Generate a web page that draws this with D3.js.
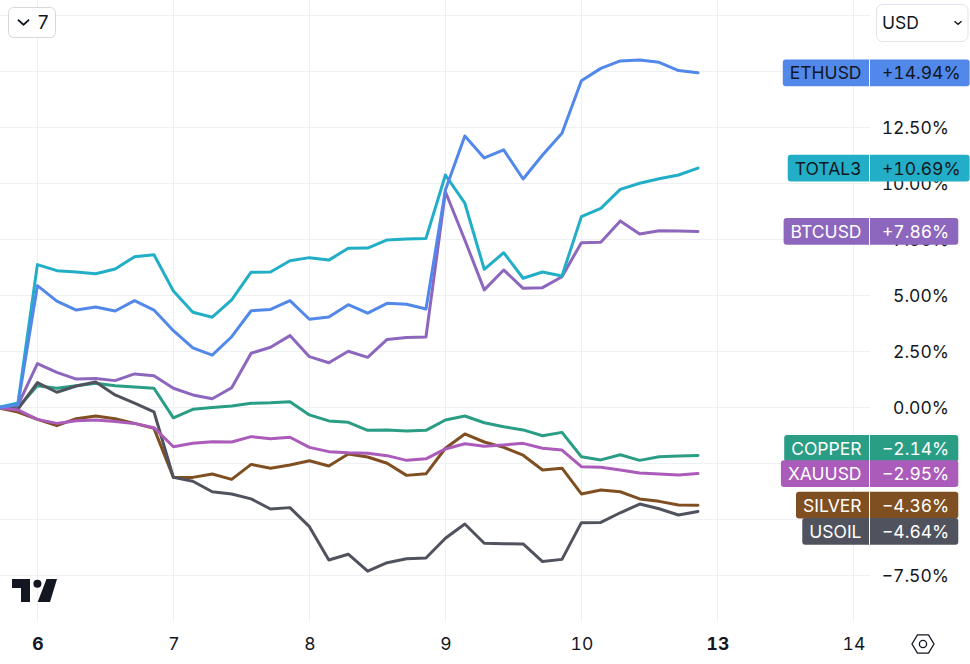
<!DOCTYPE html>
<html>
<head>
<meta charset="utf-8">
<script src="https://cdn.jsdelivr.net/npm/d3@7"></script>
<style>
  html, body { margin: 0; padding: 0; background: #fff; }
  svg { display: block; }
  text { font-family: Inter, "Noto Sans", sans-serif; font-size: 17.5px; fill: #131722; font-variant-numeric: tabular-nums; }
</style>
</head>
<body>
<svg width="970" height="664"></svg>
<script>
// % change since the start of the window, one value per 7 bars a day
const ethusd = [0, 0.13, 5.44, 4.75, 4.35, 4.49, 4.31, 4.77, 4.35, 3.43, 2.66, 2.34, 3.16, 4.32, 4.38, 4.77, 3.94, 4.04, 4.59, 4.21, 4.65, 4.61, 4.40, 9.71, 12.12, 11.14, 11.50, 10.20, 11.27, 12.24, 14.59, 15.14, 15.47, 15.51, 15.41, 15.04, 14.94];
const total3 = [0, 0.20, 6.38, 6.11, 6.05, 5.97, 6.18, 6.73, 6.82, 5.20, 4.25, 4.03, 4.80, 6.04, 6.05, 6.55, 6.69, 6.58, 7.11, 7.12, 7.48, 7.52, 7.55, 10.38, 9.12, 6.17, 6.91, 5.77, 6.05, 5.87, 8.52, 8.89, 9.74, 10.01, 10.21, 10.38, 10.69];
const btcusd = [0, 0.11, 1.96, 1.57, 1.27, 1.29, 1.20, 1.50, 1.42, 0.86, 0.56, 0.39, 0.88, 2.42, 2.69, 3.21, 2.27, 2.00, 2.51, 2.24, 3.04, 3.13, 3.15, 9.63, 7.48, 5.25, 6.14, 5.32, 5.35, 5.84, 7.36, 7.38, 8.33, 7.75, 7.89, 7.88, 7.86];
const copper = [0, 0, 0.97, 0.86, 0.97, 1.08, 0.97, 0.92, 0.86, -0.46, -0.08, 0, 0.07, 0.19, 0.21, 0.26, -0.33, -0.60, -0.66, -1.02, -1.00, -1.05, -1.02, -0.56, -0.38, -0.68, -0.86, -1.00, -1.26, -1.11, -2.20, -2.34, -2.11, -2.36, -2.20, -2.17, -2.14];
const xauusd = [-0.02, -0.11, -0.53, -0.71, -0.59, -0.56, -0.63, -0.71, -0.90, -1.75, -1.60, -1.53, -1.54, -1.30, -1.39, -1.33, -1.78, -1.97, -2.02, -2.04, -2.15, -2.36, -2.29, -1.85, -1.62, -1.73, -1.67, -1.60, -1.82, -1.90, -2.64, -2.67, -2.79, -2.92, -2.97, -3.01, -2.95];
const silver = [-0.02, -0.20, -0.53, -0.81, -0.50, -0.38, -0.50, -0.71, -0.93, -3.12, -3.12, -2.97, -3.21, -2.54, -2.71, -2.57, -2.38, -2.61, -2.08, -2.21, -2.49, -3.03, -2.96, -1.82, -1.18, -1.54, -1.78, -2.13, -2.79, -2.71, -3.86, -3.68, -3.76, -4.08, -4.19, -4.35, -4.36];
const usoil = [-0.02, -0.07, 1.11, 0.68, 0.96, 1.14, 0.56, 0.19, -0.19, -3.12, -3.29, -3.76, -3.86, -4.08, -4.53, -4.47, -5.32, -6.81, -6.55, -7.31, -6.93, -6.75, -6.72, -5.84, -5.20, -6.06, -6.08, -6.09, -6.88, -6.78, -5.14, -5.13, -4.70, -4.31, -4.52, -4.80, -4.64];

const dayLabels = ["6", "7", "8", "9", "10", "13", "14"];
const boldDays = ["6", "13"];
const gridTicks = [17.5, 15, 12.5, 10, 7.5, 5, 2.5, 0, -2.5, -5, -7.5];
// the rest sit fully under the tags and the USD button
const labelTicks = [12.5, 10, 7.5, 5, 2.5, 0, -7.5];

// draw order, bottom first
const series = [
  { name: "SILVER", values: silver, color: "#7F4F21", text: "#fff", nudge: 0 },
  { name: "COPPER", values: copper, color: "#2A9D85", text: "#fff", nudge: -7 },
  { name: "USOIL", values: usoil, color: "#50535E", text: "#fff", nudge: 20 },
  { name: "XAUUSD", values: xauusd, color: "#AB5BBA", text: "#fff", nudge: 0 },
  { name: "BTCUSD", values: btcusd, color: "#8D66BE", text: "#fff", nudge: 0 },
  { name: "TOTAL3", values: total3, color: "#22AEC7", text: "#131722", nudge: 0 },
  { name: "ETHUSD", values: ethusd, color: "#5188E9", text: "#131722", nudge: 0 }
];

const svg = d3.select("svg");
const barsPerDay = 7, firstBarOffset = -2;

const x = d3.scaleLinear().domain([0, dayLabels.length - 1]).range([37.4, 853.4]);
const y = d3.scaleLinear().domain([0, 5]).range([407.5, 295.5]);
const fmtPct = v => d3.format(".2f")(Math.abs(v)) + "%";

// grid
const grid = svg.append("g").attr("stroke", "#eff0f3").attr("stroke-width", 1);
grid.selectAll("line.h").data(gridTicks).join("line").attr("class", "h")
  .attr("x1", 0).attr("x2", 870)
  .attr("y1", d => Math.floor(y(d)) + 0.5).attr("y2", d => Math.floor(y(d)) + 0.5);
grid.selectAll("line.v").data(dayLabels).join("line").attr("class", "v")
  .attr("y1", 0).attr("y2", 622)
  .attr("x1", (d, i) => Math.round(x(i)) + 0.5).attr("x2", (d, i) => Math.round(x(i)) + 0.5);

// logo
svg.append("path").attr("fill", "#131722")
  .attr("d", "M12 579H30V602H21V588H12Z M46.5 579H57L50 602H37.7Z");
svg.append("circle").attr("cx", 37.4).attr("cy", 583.7).attr("r", 4).attr("fill", "#131722");

// lines
const line = d3.line()
  .x((d, i) => x((i + firstBarOffset) / barsPerDay))
  .y(d => y(d));
svg.append("g").selectAll("path").data(series).join("path")
  .attr("d", d => line(d.values))
  .attr("fill", "none")
  .attr("stroke", d => d.color)
  .attr("stroke-width", 3)
  .attr("stroke-linejoin", "round")
  .attr("stroke-linecap", "round");

// y axis
const yAxis = d3.axisRight(y).tickValues(labelTicks).tickSize(0).tickPadding(0)
  .tickFormat(v => (v < 0 ? "\u2212" : "") + fmtPct(v));
const yG = svg.append("g").attr("transform", "translate(949,0.7)").call(yAxis);
yG.select(".domain").remove();
yG.selectAll("text").attr("x", 0).attr("text-anchor", "end")
  .style("font-family", "Inter").style("font-size", "17.5px");

// x axis
const xAxis = d3.axisBottom(x).tickValues(d3.range(dayLabels.length)).tickSize(0).tickPadding(0)
  .tickFormat(i => dayLabels[i]);
const xG = svg.append("g").attr("transform", "translate(0,644)").call(xAxis);
xG.select(".domain").remove();
xG.selectAll("text").attr("y", 0).attr("dy", "0.35em")
  .style("font-family", "Inter").style("font-size", "17.5px")
  .style("font-weight", i => boldDays.includes(dayLabels[i]) ? 700 : 400);

// last-value tags
const sepX = 869.5;
const tags = svg.append("g");
["COPPER", "SILVER", "BTCUSD", "ETHUSD", "TOTAL3", "XAUUSD", "USOIL"].forEach(name => {
  const s = series.find(d => d.name === name);
  const last = s.values[s.values.length - 1];
  const cy = y(last) + s.nudge;
  const g = tags.append("g");
  const box = g.append("path").attr("fill", s.color);
  const nameT = g.append("text").attr("x", sepX - 8).attr("y", cy + 0.5).attr("dy", "0.35em")
    .attr("text-anchor", "end").style("fill", s.text).text(s.name);
  const valT = g.append("text").attr("x", 882).attr("y", cy + 0.5).attr("dy", "0.35em")
    .style("fill", s.text).text((last < 0 ? "\u2212" : "+") + fmtPct(last));
  const left = sepX - 8 - nameT.node().getComputedTextLength() - 7;
  const right = 882 + valT.node().getComputedTextLength() + 9;
  const top = cy - 13.4, h = 26.8, r = 3;
  box.attr("d", `M${left + r} ${top}H${right - r}Q${right} ${top} ${right} ${top + r}V${top + h - r}Q${right} ${top + h} ${right - r} ${top + h}H${left + r}Q${left} ${top + h} ${left} ${top + h - r}V${top + r}Q${left} ${top} ${left + r} ${top}Z`);
  g.append("line").attr("x1", sepX).attr("x2", sepX).attr("y1", top).attr("y2", top + h)
    .attr("stroke", "#fff").attr("stroke-width", 1);
});

// buttons
const chevron = (cx, cy, w) => `M${cx - w} ${cy - w / 2}L${cx} ${cy + w / 2 - 0.5}L${cx + w} ${cy - w / 2}`;
svg.append("rect").attr("x", 8.5).attr("y", 7.5).attr("width", 47).attr("height", 30).attr("rx", 5)
  .attr("fill", "#fff").attr("stroke", "#d6d8de");
svg.append("path").attr("d", chevron(23.5, 22.5, 5.5)).attr("fill", "none").attr("stroke", "#131722").attr("stroke-width", 1.7);
svg.append("text").attr("x", 37).attr("y", 22.5).attr("dy", "0.35em").style("font-size", "19px").text("7");

svg.append("rect").attr("x", 876.5).attr("y", 4.5).attr("width", 91.5).attr("height", 37).attr("rx", 6)
  .attr("fill", "#fff").attr("stroke", "#e0e3eb");
svg.append("text").attr("x", 882).attr("y", 22.5).attr("dy", "0.35em").text("USD");
svg.append("path").attr("d", chevron(958, 23, 3.5)).attr("fill", "none").attr("stroke", "#131722").attr("stroke-width", 1.5);

// settings hexagon
const hex = d3.range(6).map(i => {
  const a = i * Math.PI / 3;
  return [923 + 11 * Math.cos(a), 644 + 10.5 * Math.sin(a)];
});
svg.append("path").attr("d", d3.line()(hex) + "Z").attr("fill", "none").attr("stroke", "#131722").attr("stroke-width", 1.3);
svg.append("circle").attr("cx", 923).attr("cy", 644).attr("r", 3.6).attr("fill", "none").attr("stroke", "#131722").attr("stroke-width", 1.3);
</script>
</body>
</html>
